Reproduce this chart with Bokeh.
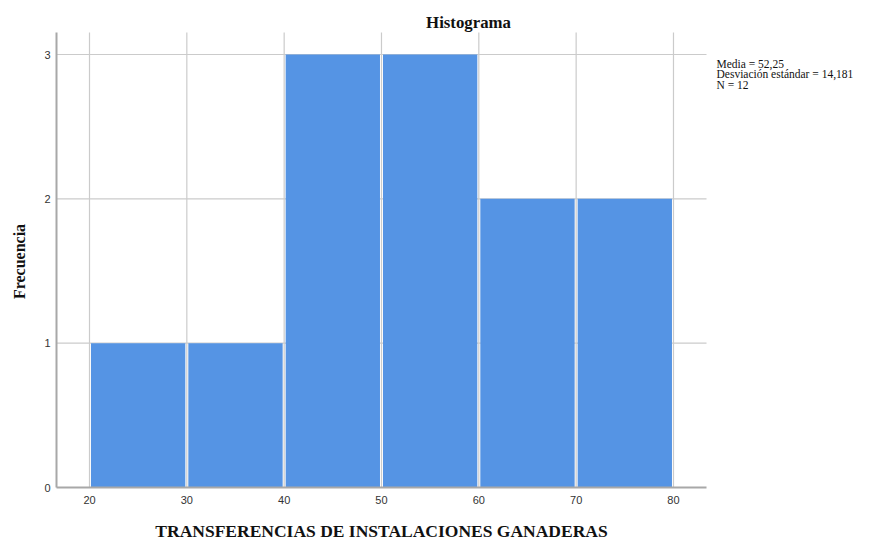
import math
from bokeh.plotting import figure
from bokeh.models import Range1d, Label
from bokeh.embed import file_html
from bokeh.resources import INLINE

# Data
bin_edges = [20, 30, 40, 50, 60, 70, 80]
counts = [1, 1, 3, 3, 2, 2]
x_ticks = [20, 30, 40, 50, 60, 70, 80]
y_ticks = [0, 1, 2, 3]
stats_lines = ["Media = 52,25", "Desviación estándar = 14,181", "N = 12"]
title_text = "Histograma"
x_label = "TRANSFERENCIAS DE INSTALACIONES GANADERAS"
y_label = "Frecuencia"

SERIF = "Liberation Serif"
SANS = "Liberation Sans"

W, H = 869, 541
# pixel scale of the value axes (px per data unit)
XS = 9.733
YS = 144.33
X0_PX, Y0_PX = 89, 487          # pixel position of x=20 and y=0


def xd(px):  # canvas px -> x data
    return 20 + (px - X0_PX) / XS


def yd(py):  # canvas px (from top) -> y data
    return (Y0_PX - py) / YS


p = figure(width=W, height=H, output_backend="svg", toolbar_location=None,
           x_range=Range1d(xd(0), xd(W)), y_range=Range1d(yd(H), yd(0)),
           min_border_left=0, min_border_right=0, min_border_top=0,
           min_border_bottom=0)
p.outline_line_color = None
p.axis.visible = False
p.grid.visible = False
p.background_fill_color = "white"
p.border_fill_color = "white"

x_left = xd(56)     # y-axis line position
x_right = xd(706)   # right end of horizontal lines
y_top = yd(32)      # top of vertical lines

# Gridlines
grid_y = [t for t in y_ticks if t > 0]
p.segment(x0=x_ticks, y0=[0] * len(x_ticks), x1=x_ticks, y1=[y_top] * len(x_ticks),
          line_color="#cbcbcb", line_width=1.2)
p.segment(x0=[x_left] * len(grid_y), y0=grid_y, x1=[x_right] * len(grid_y), y1=grid_y,
          line_color="#cbcbcb", line_width=1.2)

# Bars (slightly inset so grid line is visible in the gaps)
inset = 1.5 / XS
lefts = [e + inset for e in bin_edges[:-1]]
rights = [e - inset for e in bin_edges[1:]]
p.quad(left=lefts, right=rights, bottom=0, top=counts,
       fill_color="#5594e4", line_color=None)

# Axis lines
p.segment(x0=[x_left], y0=[0], x1=[x_left], y1=[y_top], line_color="#a8a8a8", line_width=2)
p.segment(x0=[x_left], y0=[0], x1=[x_right], y1=[0], line_color="#a8a8a8", line_width=2)

# Tick labels
p.text(x=x_ticks, y=[yd(Y0_PX + 8)] * len(x_ticks), text=[str(t) for t in x_ticks],
       text_align="center", text_baseline="top", text_font={"value": SANS},
       text_font_size="11px", text_color="#333333")
p.text(x=[xd(50)] * len(y_ticks), y=y_ticks, text=[str(t) for t in y_ticks],
       text_align="right", text_baseline="middle", text_font={"value": SANS},
       text_font_size="11px", text_color="#333333")

# Axis labels
p.add_layout(Label(x=xd(381), y=yd(520), text=x_label, text_align="center",
                   text_baseline="top", text_font=SERIF, text_font_style="bold",
                   text_font_size="17.5px", text_color="#111111"))
p.add_layout(Label(x=xd(18.5), y=yd(261), text=y_label, angle=math.pi / 2,
                   text_align="center", text_baseline="middle", text_font=SERIF,
                   text_font_style="bold", text_font_size="16px", text_color="#111111"))

# Title
p.add_layout(Label(x=xd(468), y=yd(22), text=title_text, text_align="center",
                   text_baseline="alphabetic", text_font=SERIF, text_font_style="bold",
                   text_font_size="16.8px", text_color="#111111"))

# Statistics annotation
for i, s in enumerate(stats_lines):
    p.add_layout(Label(x=xd(716), y=yd(63 + 10.5 * i), text=s, text_align="left",
                       text_baseline="alphabetic", text_font=SERIF,
                       text_font_size="11.5px", text_color="#111111"))

open("out.html", "w").write(file_html(p, INLINE))
